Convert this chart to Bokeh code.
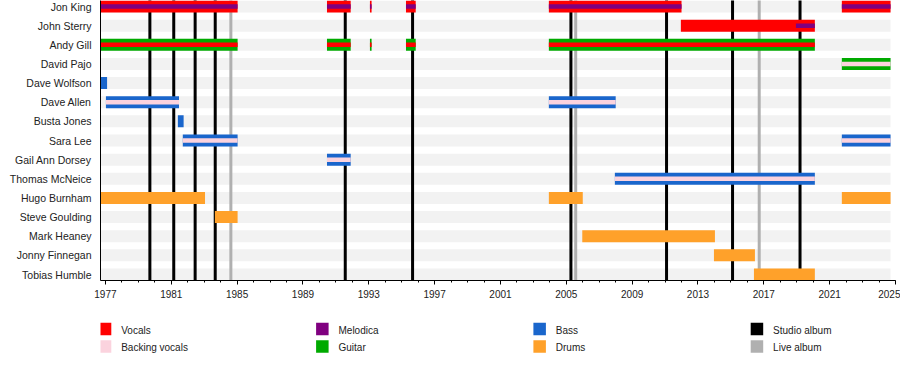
from bokeh.plotting import figure
from bokeh.models import Range1d, FixedTicker, ColumnDataSource
from bokeh.layouts import column
from bokeh.core.properties import value
from bokeh.embed import file_html
from bokeh.resources import INLINE

# ---------------- data ----------------
members = ["Jon King", "John Sterry", "Andy Gill", "David Pajo", "Dave Wolfson",
           "Dave Allen", "Busta Jones", "Sara Lee", "Gail Ann Dorsey", "Thomas McNeice",
           "Hugo Burnham", "Steve Goulding", "Mark Heaney", "Jonny Finnegan", "Tobias Humble"]

period_start = 1976.7
period_end = 2024.7

# main bars (full height)
main_member = ["Jon King", "Jon King", "Jon King", "Jon King", "Jon King", "Jon King",
               "John Sterry",
               "Andy Gill", "Andy Gill", "Andy Gill", "Andy Gill", "Andy Gill",
               "David Pajo", "Dave Wolfson", "Dave Allen", "Dave Allen", "Busta Jones",
               "Sara Lee", "Sara Lee", "Gail Ann Dorsey", "Thomas McNeice",
               "Hugo Burnham", "Hugo Burnham", "Hugo Burnham", "Steve Goulding",
               "Mark Heaney", "Jonny Finnegan", "Tobias Humble"]
main_start = [1976.7, 1990.46, 1993.07, 1995.26, 2003.94, 2021.74,
              2011.96,
              1976.7, 1990.46, 1993.07, 1995.26, 2003.94,
              2021.74, 1976.7, 1977.03, 2003.94, 1981.4,
              1981.7, 2021.74, 1990.46, 2007.95,
              1976.7, 2003.94, 2021.74, 1983.65,
              2005.97, 2013.97, 2016.4]
main_end = [1985.03, 1991.9, 1993.17, 1995.85, 2012.0, 2024.7,
            2020.1,
            1985.03, 1991.9, 1993.17, 1995.85, 2020.1,
            2024.7, 1977.1, 1981.47, 2008.0, 1981.75,
            1985.03, 2024.7, 1991.9, 2020.1,
            1983.05, 2006.0, 2024.7, 1985.03,
            2014.03, 2016.46, 2020.1]
main_role = ["Vocals"] * 6 + ["Vocals"] + ["Guitar"] * 5 + \
            ["Guitar", "Bass", "Bass", "Bass", "Bass", "Bass", "Bass", "Bass", "Bass",
             "Drums", "Drums", "Drums", "Drums", "Drums", "Drums", "Drums"]

# secondary roles (thin centre stripe)
stripe_member = ["Jon King", "Jon King", "Jon King", "Jon King", "Jon King", "Jon King",
                 "John Sterry",
                 "Andy Gill", "Andy Gill", "Andy Gill", "Andy Gill", "Andy Gill",
                 "David Pajo", "Dave Allen", "Dave Allen", "Sara Lee", "Sara Lee",
                 "Gail Ann Dorsey", "Thomas McNeice"]
stripe_start = [1976.7, 1990.46, 1993.07, 1995.26, 2003.94, 2021.74,
                2018.95,
                1976.7, 1990.46, 1993.07, 1995.26, 2003.94,
                2021.74, 1977.03, 2003.94, 1981.7, 2021.74,
                1990.46, 2007.95]
stripe_end = [1985.03, 1991.9, 1993.17, 1995.85, 2012.0, 2024.7,
              2020.1,
              1985.03, 1991.9, 1993.17, 1995.85, 2020.1,
              2024.7, 1981.47, 2008.0, 1985.03, 2024.7,
              1991.9, 2020.1]
stripe_role = ["Melodica"] * 6 + ["Melodica"] + ["Vocals"] * 5 + ["Backing vocals"] * 7

studio_albums = [1979.7, 1981.15, 1982.45, 1983.67, 1991.57, 1995.66, 2005.28,
                 2011.09, 2015.1, 2019.2]
live_albums = [1984.62, 2005.57, 2016.72]

major_years = list(range(1977, 2026, 4))
minor_years = list(range(1977, 2026, 1))

legend_labels = ["Vocals", "Backing vocals", "Melodica", "Guitar", "Bass", "Drums",
                 "Studio album", "Live album"]

role_colors = {
    "Vocals": "#FF0000",
    "Backing vocals": "#FBD3DE",
    "Melodica": "#800080",
    "Guitar": "#00AA00",
    "Bass": "#1A66CC",
    "Drums": "#FFA12A",
    "Studio album": "#000000",
    "Live album": "#B0B0B0",
}

FONT = "Liberation Sans"

# ---------------- main figure ----------------
n = len(members)
bar_px = 12.0
frame_h = 280
pitch_px = (frame_h - bar_px) / (n - 1)
h = bar_px / pitch_px
stripe_h = 4.5 / pitch_px

W = 900
border_left, border_right, border_bottom = 100, 5, 27
H = frame_h + border_bottom

p = figure(width=W, height=H, output_backend="svg", toolbar_location=None, title=None,
           x_range=Range1d(period_start, 2025.0),
           y_range=Range1d(n - 1 + h / 2, -h / 2),
           min_border=0)
p.min_border_left = border_left
p.min_border_right = border_right
p.min_border_bottom = border_bottom
p.min_border_top = 0
p.outline_line_color = None
p.xgrid.visible = False
p.ygrid.visible = False
p.background_fill_color = "white"

row = {m: i for i, m in enumerate(members)}

# background bands
p.hbar(y=list(range(n)), left=period_start, right=period_end, height=h,
       fill_color="#F2F2F2", line_color=None)

# album lines
p.segment(x0=studio_albums, x1=studio_albums, y0=-h, y1=n, line_color=role_colors["Studio album"], line_width=3)
p.segment(x0=live_albums, x1=live_albums, y0=-h, y1=n, line_color=role_colors["Live album"], line_width=3)

main_src = ColumnDataSource(dict(
    y=[row[m] for m in main_member], left=main_start, right=main_end,
    color=[role_colors[r] for r in main_role]))
p.hbar(y="y", left="left", right="right", height=h, fill_color="color", line_color=None, source=main_src)

stripe_src = ColumnDataSource(dict(
    y=[row[m] for m in stripe_member], left=stripe_start, right=stripe_end,
    color=[role_colors[r] for r in stripe_role]))
p.hbar(y="y", left="left", right="right", height=stripe_h, fill_color="color", line_color=None, source=stripe_src)

# axes
xa = p.xaxis[0]
xa.ticker = FixedTicker(ticks=major_years, minor_ticks=minor_years)
xa.axis_line_color = "black"
xa.major_tick_line_color = "black"
xa.minor_tick_line_color = "black"
xa.major_tick_in = 0
xa.major_tick_out = 4
xa.minor_tick_in = 0
xa.minor_tick_out = 2
xa.major_label_standoff = 5
xa.major_label_text_font = FONT
xa.major_label_text_font_size = "10px"
xa.major_label_text_color = "#222222"

ya = p.yaxis[0]
ya.ticker = FixedTicker(ticks=list(range(n)))
ya.major_label_overrides = {i: m for i, m in enumerate(members)}
ya.axis_line_color = "black"
ya.major_tick_line_color = None
ya.minor_tick_line_color = None
ya.major_tick_in = 0
ya.major_tick_out = 0
ya.major_label_standoff = 9
ya.major_label_text_font = FONT
ya.major_label_text_font_size = "10.5px"
ya.major_label_text_color = "#222222"

# ---------------- legend figure (frame aligns with main frame) ----------------
LH = 55
lg = figure(width=W, height=LH, output_backend="svg", toolbar_location=None, title=None,
            x_range=Range1d(border_left, W - border_right), y_range=Range1d(H + LH, H),
            min_border=0, x_axis_type=None, y_axis_type=None)
lg.min_border_left = border_left
lg.min_border_right = border_right
lg.outline_line_color = None
lg.xgrid.visible = False
lg.ygrid.visible = False

col_x0, col_step = 98.3, 217.3
row_y0, row_step = 328.5, 17.5
sq = 12.5
lx = [col_x0 + (i // 2) * col_step for i in range(len(legend_labels))]
ly = [row_y0 + (i % 2) * row_step for i in range(len(legend_labels))]
lsrc = ColumnDataSource(dict(
    x=[v + sq / 2 for v in lx], y=ly, tx=[v + 22.4 for v in lx], ty=[v + 1 for v in ly],
    label=legend_labels, color=[role_colors[l] for l in legend_labels]))
lg.rect(x="x", y="y", width=sq, height=sq, fill_color="color", line_color=None, source=lsrc)
lg.text(x="tx", y="ty", text="label", text_baseline="middle", text_align="left",
        text_font=value(FONT), text_font_size="10px", text_color="#222222", source=lsrc)

layout = column(p, lg, spacing=0)
open("out.html", "w").write(file_html(layout, INLINE))
